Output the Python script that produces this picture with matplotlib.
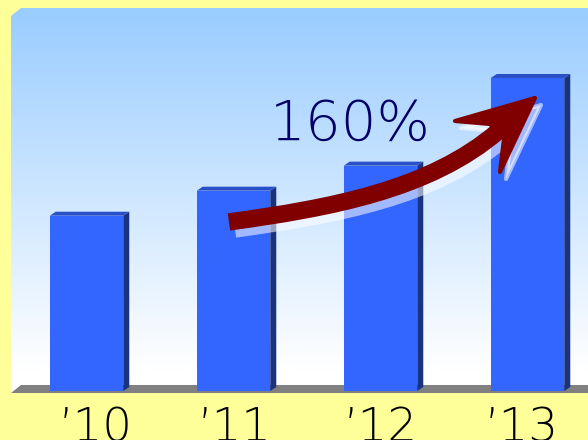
import numpy as np
from matplotlib import pyplot as plt
from matplotlib.patches import Polygon, PathPatch
from matplotlib.path import Path
from matplotlib import transforms

years = ["\u201910", "\u201911", "\u201912", "\u201913"]
values = [56, 64, 72, 100]
growth_label = "160%"

BG = '#FFFF99'
FRONT = '#3366FF'
TOP = '#2A50C8'
SIDE = '#1A3380'
ARROW = '#800000'


def draw_wall(ax, x0, x1, y0, y1):
    '''Gradient back wall with chamfered corner, plus grey floor'''
    grad = np.linspace(0, 1, 256).reshape(-1, 1)
    top = np.array([153, 204, 255]) / 255
    # white from about 90% down
    t = np.clip(grad / 0.94, 0, 1)
    img = top * (1 - t)[..., None] + np.ones(3) * t[..., None]
    img = img.reshape(256, 1, 3)
    im = ax.imshow(img, extent=[x0, x1, y0, y1], origin='upper',
                   aspect='auto', zorder=0)
    wall = Polygon([(x0, 119.8), (-0.4456, y1), (x1, y1), (x1, y0), (x0, y0)],
                   closed=True, facecolor='none', edgecolor='none')
    ax.add_patch(wall)
    im.set_clip_path(wall)
    floor = Polygon([(x0, y0), (-0.4456, 1.92), (x1, 1.92), (x1, y0)],
                    closed=True, facecolor='#808080', edgecolor='none', zorder=1)
    ax.add_patch(floor)


def draw_bars(ax, xs, vals, width=0.5, dx=0.041, dy=1.28):
    ax.bar(xs, vals, width=width, color=FRONT, zorder=3, linewidth=0)
    for x, v in zip(xs, vals):
        right = x + width / 2
        left = x - width / 2
        side = Polygon([(right, 0), (right + dx, dy), (right + dx, v + dy), (right, v)],
                       closed=True, facecolor=SIDE, edgecolor='none', zorder=3)
        top = Polygon([(left, v), (left + dx, v + dy), (right + dx, v + dy), (right, v)],
                      closed=True, facecolor=TOP, edgecolor='none', zorder=3)
        ax.add_patch(side)
        ax.add_patch(top)


def arrow_patches(sx=0.0, sy=0.0, color=ARROW, alpha=1.0, z=5):
    shaft = [(0.969, 54.0), (1.656, 58.47), (2.337, 64.22), (2.806, 83.23)]
    head = [(2.745, 85.3), (2.507, 86.26), (3.051, 93.61), (2.813, 69.97), (2.840, 80.5)]
    shaft = [(x + sx, y + sy) for x, y in shaft]
    head = [(x + sx, y + sy) for x, y in head]
    path = Path(shaft, [Path.MOVETO, Path.CURVE4, Path.CURVE4, Path.CURVE4])
    p1 = PathPatch(path, facecolor='none', edgecolor=color, linewidth=12.5,
                   capstyle='butt', alpha=alpha, zorder=z)
    p2 = Polygon(head, closed=True, facecolor=color, edgecolor=color,
                 linewidth=3, joinstyle='round', alpha=alpha, zorder=z)
    return [p1, p2]


def main():
    fig = plt.figure(figsize=(5.88, 4.4), dpi=100)
    fig.patch.set_facecolor(BG)
    ax = fig.add_axes([11 / 588, 47 / 440, 577 / 588, 385 / 440])
    x0, x1 = -0.5136, 3.4116
    y0, y1 = -0.639, 122.36
    ax.set_xlim(x0, x1)
    ax.set_ylim(y0, y1)
    ax.axis('off')

    draw_wall(ax, x0, x1, y0, y1)
    xs = np.arange(len(values))
    draw_bars(ax, xs, values)

    for p in arrow_patches(0.041, -2.24, color='white', alpha=0.55, z=4):
        ax.add_patch(p)
    for p in arrow_patches():
        ax.add_patch(p)

    ax.text(1.248, 80.2, growth_label, fontsize=40.5, color='#000066',
            fontweight='light', ha='left', va='baseline', zorder=6)

    # label centres sit a little off the bar centres in the original
    label_x = [0.065, 1.007, 2.003, 2.963]
    trans = transforms.blended_transform_factory(ax.transData, fig.transFigure)
    for x, lab in zip(label_x, years):
        ax.text(x, -0.0023, lab, transform=trans, fontsize=33.6,
                color='black', fontweight='light', ha='center', va='baseline',
                clip_on=False)

    fig.savefig('out.png', dpi=100, facecolor=BG)


if __name__ == "__main__":
    main()
